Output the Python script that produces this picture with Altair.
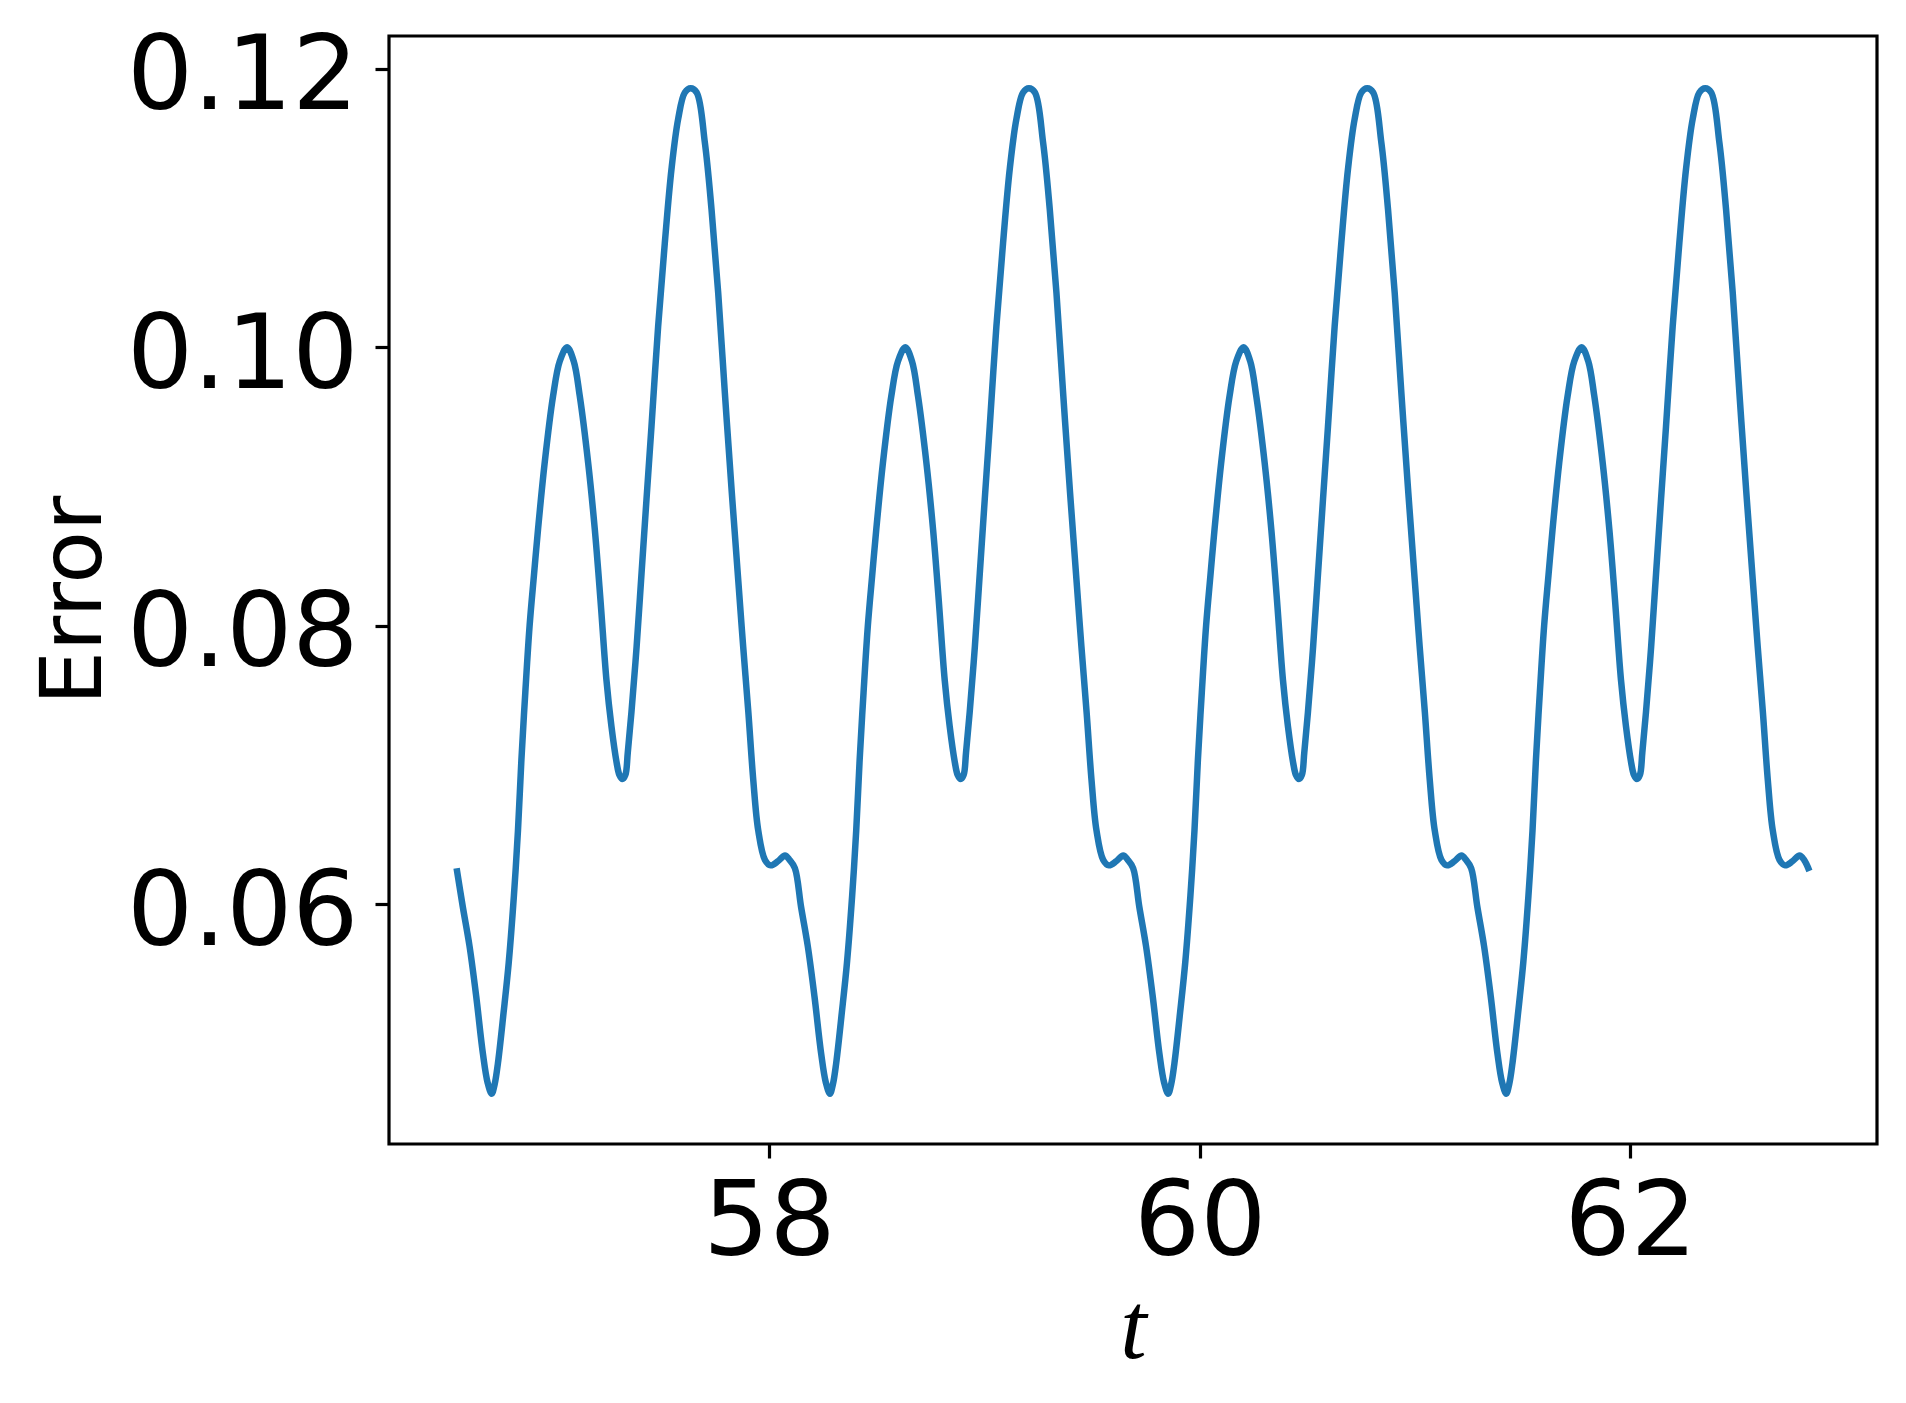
import altair as alt
import pandas as pd

# ---- data (four repeating periods of the error curve) ----
t_p1 = [56.549, 56.578, 56.609, 56.640, 56.671, 56.693, 56.712, 56.726, 56.741, 56.767,
        56.791, 56.815, 56.834, 56.850, 56.868, 56.888, 56.908, 56.927, 56.958, 56.997,
        57.028, 57.062, 57.093, 57.121, 57.160, 57.191, 57.217, 57.245, 57.268, 57.292,
        57.305, 57.319, 57.333, 57.344, 57.361, 57.385, 57.408, 57.431, 57.454, 57.485,
        57.516, 57.547, 57.578, 57.609, 57.636, 57.664, 57.702, 57.733, 57.764, 57.795,
        57.827, 57.857, 57.880, 57.904, 57.927, 57.950, 57.981, 58.008, 58.042, 58.074,
        58.095]
err_p1 = [0.0626, 0.0598, 0.0570, 0.0534, 0.0493, 0.0472, 0.0464, 0.0471, 0.0486, 0.0522,
          0.0558, 0.0606, 0.0653, 0.0704, 0.0752, 0.0800, 0.0836, 0.0869, 0.0917, 0.0965,
          0.0990, 0.1000, 0.0990, 0.0965, 0.0917, 0.0869, 0.0819, 0.0761, 0.0728, 0.0702,
          0.0693, 0.0690, 0.0693, 0.0709, 0.0738, 0.0785, 0.0838, 0.0891, 0.0943, 0.1015,
          0.1075, 0.1128, 0.1164, 0.1183, 0.1186, 0.1183, 0.1147, 0.1099, 0.1039, 0.0967,
          0.0896, 0.0833, 0.0785, 0.0738, 0.0689, 0.0653, 0.0632, 0.0628, 0.0631, 0.0635,
          0.0632]

t_p2 = [58.120, 58.149, 58.180, 58.211, 58.242, 58.264, 58.283, 58.297, 58.312, 58.338,
        58.362, 58.386, 58.405, 58.421, 58.439, 58.459, 58.479, 58.498, 58.529, 58.568,
        58.599, 58.633, 58.664, 58.692, 58.731, 58.762, 58.788, 58.816, 58.839, 58.863,
        58.876, 58.890, 58.904, 58.915, 58.932, 58.956, 58.979, 59.002, 59.025, 59.056,
        59.087, 59.118, 59.149, 59.180, 59.207, 59.235, 59.273, 59.304, 59.335, 59.366,
        59.398, 59.428, 59.451, 59.475, 59.498, 59.521, 59.552, 59.579, 59.613, 59.645,
        59.666]
err_p2 = [0.0626, 0.0598, 0.0570, 0.0534, 0.0493, 0.0472, 0.0464, 0.0471, 0.0486, 0.0522,
          0.0558, 0.0606, 0.0653, 0.0704, 0.0752, 0.0800, 0.0836, 0.0869, 0.0917, 0.0965,
          0.0990, 0.1000, 0.0990, 0.0965, 0.0917, 0.0869, 0.0819, 0.0761, 0.0728, 0.0702,
          0.0693, 0.0690, 0.0693, 0.0709, 0.0738, 0.0785, 0.0838, 0.0891, 0.0943, 0.1015,
          0.1075, 0.1128, 0.1164, 0.1183, 0.1186, 0.1183, 0.1147, 0.1099, 0.1039, 0.0967,
          0.0896, 0.0833, 0.0785, 0.0738, 0.0689, 0.0653, 0.0632, 0.0628, 0.0631, 0.0635,
          0.0632]

t_p3 = [59.691, 59.720, 59.751, 59.782, 59.813, 59.835, 59.854, 59.868, 59.883, 59.909,
        59.933, 59.957, 59.976, 59.992, 60.010, 60.030, 60.050, 60.069, 60.100, 60.139,
        60.170, 60.204, 60.235, 60.263, 60.302, 60.333, 60.359, 60.387, 60.410, 60.434,
        60.447, 60.461, 60.475, 60.486, 60.503, 60.527, 60.550, 60.573, 60.596, 60.627,
        60.658, 60.689, 60.720, 60.751, 60.778, 60.806, 60.844, 60.875, 60.906, 60.937,
        60.969, 60.999, 61.022, 61.046, 61.069, 61.092, 61.123, 61.150, 61.184, 61.216,
        61.237]
err_p3 = [0.0626, 0.0598, 0.0570, 0.0534, 0.0493, 0.0472, 0.0464, 0.0471, 0.0486, 0.0522,
          0.0558, 0.0606, 0.0653, 0.0704, 0.0752, 0.0800, 0.0836, 0.0869, 0.0917, 0.0965,
          0.0990, 0.1000, 0.0990, 0.0965, 0.0917, 0.0869, 0.0819, 0.0761, 0.0728, 0.0702,
          0.0693, 0.0690, 0.0693, 0.0709, 0.0738, 0.0785, 0.0838, 0.0891, 0.0943, 0.1015,
          0.1075, 0.1128, 0.1164, 0.1183, 0.1186, 0.1183, 0.1147, 0.1099, 0.1039, 0.0967,
          0.0896, 0.0833, 0.0785, 0.0738, 0.0689, 0.0653, 0.0632, 0.0628, 0.0631, 0.0635,
          0.0632]

t_p4 = [61.261, 61.290, 61.321, 61.352, 61.383, 61.405, 61.424, 61.438, 61.453, 61.479,
        61.503, 61.527, 61.546, 61.562, 61.580, 61.600, 61.620, 61.639, 61.670, 61.709,
        61.740, 61.774, 61.805, 61.833, 61.872, 61.903, 61.929, 61.957, 61.980, 62.004,
        62.017, 62.031, 62.045, 62.056, 62.073, 62.097, 62.120, 62.143, 62.166, 62.197,
        62.228, 62.259, 62.290, 62.321, 62.348, 62.376, 62.414, 62.445, 62.476, 62.507,
        62.539, 62.569, 62.592, 62.616, 62.639, 62.662, 62.693, 62.720, 62.754, 62.786,
        62.807, 62.832]
err_p4 = [0.0626, 0.0598, 0.0570, 0.0534, 0.0493, 0.0472, 0.0464, 0.0471, 0.0486, 0.0522,
          0.0558, 0.0606, 0.0653, 0.0704, 0.0752, 0.0800, 0.0836, 0.0869, 0.0917, 0.0965,
          0.0990, 0.1000, 0.0990, 0.0965, 0.0917, 0.0869, 0.0819, 0.0761, 0.0728, 0.0702,
          0.0693, 0.0690, 0.0693, 0.0709, 0.0738, 0.0785, 0.0838, 0.0891, 0.0943, 0.1015,
          0.1075, 0.1128, 0.1164, 0.1183, 0.1186, 0.1183, 0.1147, 0.1099, 0.1039, 0.0967,
          0.0896, 0.0833, 0.0785, 0.0738, 0.0689, 0.0653, 0.0632, 0.0628, 0.0631, 0.0635,
          0.0632, 0.0624]

x_ticks = [58, 60, 62]
y_ticks = [0.06, 0.08, 0.10, 0.12]

df = pd.DataFrame({
    "t": t_p1 + t_p2 + t_p3 + t_p4,
    "error": err_p1 + err_p2 + err_p3 + err_p4,
})

W, H = 1488, 1108

line = alt.Chart(df).mark_line(
    color="#1f77b4", strokeWidth=6.5, interpolate="catmull-rom", strokeCap="butt", strokeJoin="round"
).encode(
    x=alt.X("t:Q",
            scale=alt.Scale(domain=[56.235, 63.146], nice=False, zero=False),
            axis=alt.Axis(values=x_ticks, format="d", title="t",
                          labelFont="DejaVu Sans", labelFontSize=104, labelColor="black",
                          labelPadding=14, labelFlush=False, labelOverlap=False, labelLimit=0,
                          tickSize=14, tickWidth=3.2, tickColor="black",
                          domain=False, grid=False,
                          titleFont="Liberation Serif", titleFontStyle="italic",
                          titleFontWeight="normal", titleFontSize=95, titleColor="black",
                          titleX=W / 2, titleY=213, titleBaseline="alphabetic",
                          titleAlign="center")),
    y=alt.Y("error:Q",
            scale=alt.Scale(domain=[0.04279, 0.12236], nice=False, zero=False),
            axis=alt.Axis(values=y_ticks, format=".2f", title="Error",
                          labelFont="DejaVu Sans", labelFontSize=104, labelColor="black",
                          labelPadding=17, labelOffset=9, labelFlush=False,
                          labelOverlap=False, labelLimit=0,
                          tickSize=14, tickWidth=3.2, tickColor="black",
                          domain=False, grid=False,
                          titleFont="DejaVu Sans", titleFontWeight="normal",
                          titleFontSize=86, titleColor="black",
                          titleAngle=-90, titleX=-289, titleY=H / 2 + 10,
                          titleBaseline="alphabetic", titleAlign="center")),
)

chart = line.properties(
    width=W, height=H,
    autosize=alt.AutoSizeParams(type="none"),
    padding={"left": 381, "top": 28, "right": 15, "bottom": 240},
    background="white",
).configure_view(stroke="black", strokeWidth=3.2)

chart.save("out.html", embed_options={"renderer": "svg", "actions": False})
